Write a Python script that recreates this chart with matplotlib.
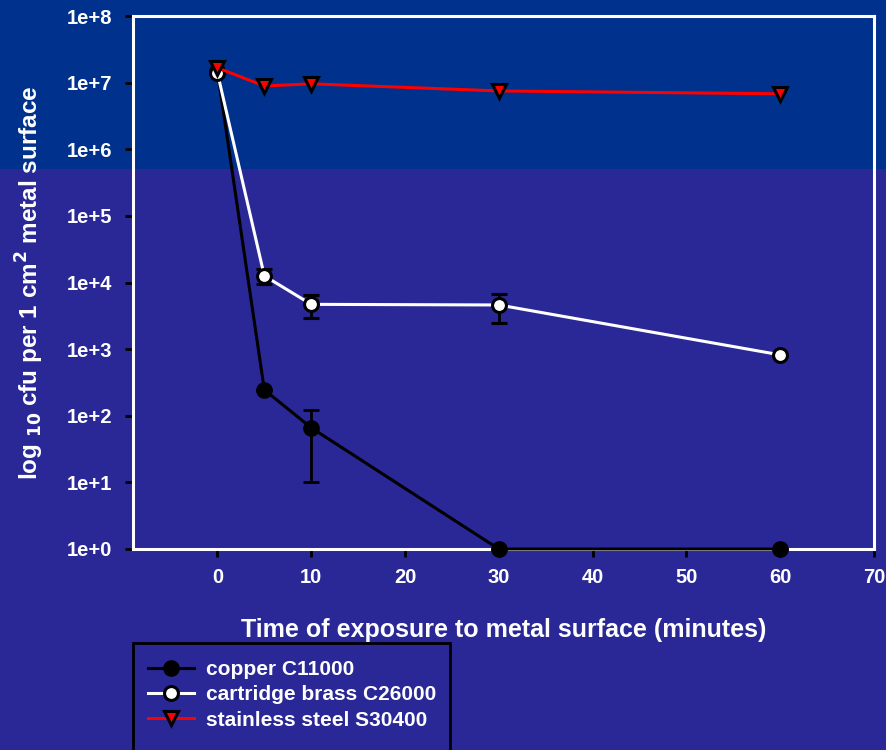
import math
import matplotlib.pyplot as plt
from matplotlib.lines import Line2D
from matplotlib.patches import Rectangle
from matplotlib.ticker import FixedLocator, FuncFormatter

plt.rcParams['font.family'] = ['Liberation Sans', 'DejaVu Sans']
plt.rcParams['font.weight'] = 'bold'
plt.rcParams['mathtext.default'] = 'bf'

# exposure times (minutes)
minutes = [0, 5, 10, 30, 60]

# cfu counts per 1 cm2, with error bars
copper = [1.5e7, 245, 66, 1, 1]
copper_err = [0, 0, 56, 0, 0]
brass = [1.4e7, 12600, 4700, 4600, 820]
brass_err = [0, 3100, 1800, 2150, 0]
steel = [1.67e7, 8.9e6, 9.6e6, 7.5e6, 6.8e6]

top_blue = '#00318c'
low_blue = '#292896'

fig = plt.figure(figsize=(8.86, 7.5), dpi=100, facecolor=low_blue)

# background: brighter band across the top of the slide
bg = fig.add_axes([0, 0, 1, 1], zorder=-1)
bg.set_xlim(0, 1)
bg.set_ylim(0, 1)
bg.axis('off')
bg.add_patch(Rectangle((0, 1 - 169 / 750), 1, 169 / 750, facecolor=top_blue, edgecolor='none'))
# legend box runs off the bottom of the figure
bg.add_patch(Rectangle((133 / 886, -0.05), (450 - 133) / 886, 0.05 + (750 - 643) / 750,
                       facecolor='none', edgecolor='black', lw=2, clip_on=False))

ax = fig.add_axes([133 / 886, 1 - 549 / 750, 741 / 886, 533 / 750])
ax.set_facecolor('none')

ax.errorbar(minutes, copper, yerr=copper_err, fmt='-o', color='black', mfc='black', mec='black',
            ms=10, mew=2, lw=2.2, ecolor='black', elinewidth=2, capsize=6, capthick=2,
            clip_on=False, zorder=3)
ax.errorbar(minutes, brass, yerr=brass_err, fmt='-o', color='white', mfc='white', mec='black',
            ms=10, mew=2.2, lw=2.2, ecolor='black', elinewidth=2, capsize=6, capthick=2,
            clip_on=False, zorder=4)
ax.plot(minutes, steel, '-v', color='#ff0000', mfc='#ff0000', mec='black', ms=10, mew=2.2,
        lw=2.2, clip_on=False, zorder=5)

ax.set_yscale('log')
ax.set_ylim(1, 1e8)
ax.set_xlim(-9, 70)
ax.yaxis.set_major_locator(FixedLocator([10 ** k for k in range(9)]))
ax.yaxis.set_minor_locator(FixedLocator([]))
ax.yaxis.set_major_formatter(FuncFormatter(lambda v, p: '1e+%d' % round(math.log10(v))))
ax.set_xticks(range(0, 71, 10))

for side in ['left', 'right', 'top', 'bottom']:
    ax.spines[side].set_color('white')
    ax.spines[side].set_linewidth(2.2)
ax.tick_params(direction='out', length=6, width=2, color='black', labelcolor='white',
               labelsize=14.5)
ax.tick_params(axis='x', pad=8)
ax.tick_params(axis='y', pad=9)
for lab in ax.get_xticklabels() + ax.get_yticklabels():
    lab.set_fontweight('bold')

ax.set_xlabel('Time of exposure to metal surface (minutes)', color='white', fontsize=18,
              fontweight='bold')
ax.xaxis.set_label_coords(0.5, -0.13)
ax.set_ylabel(r'log $_{10}$ cfu per 1 cm$^{2}$ metal surface', color='white', fontsize=17.5,
              fontweight='bold')
ax.yaxis.set_label_coords(-0.117, 0.5)

handles = [
    Line2D([], [], color='black', marker='o', mfc='black', mec='black', ms=10, mew=2, lw=2.2),
    Line2D([], [], color='white', marker='o', mfc='white', mec='black', ms=10, mew=2.2, lw=2.2),
    Line2D([], [], color='#ff0000', marker='v', mfc='#ff0000', mec='black', ms=10, mew=2.2, lw=2.2),
]
labels = ['copper C11000', 'cartridge brass C26000', 'stainless steel S30400']
fig.legend(handles, labels, loc='upper left', bbox_to_anchor=(148 / 886, 1 - 660 / 750),
           frameon=False, labelcolor='white', handlelength=2.2, handletextpad=0.6,
           labelspacing=0.3, borderpad=0, borderaxespad=0,
           prop={'weight': 'bold', 'size': 15})

fig.savefig('out.png', dpi=100, facecolor=fig.get_facecolor())
